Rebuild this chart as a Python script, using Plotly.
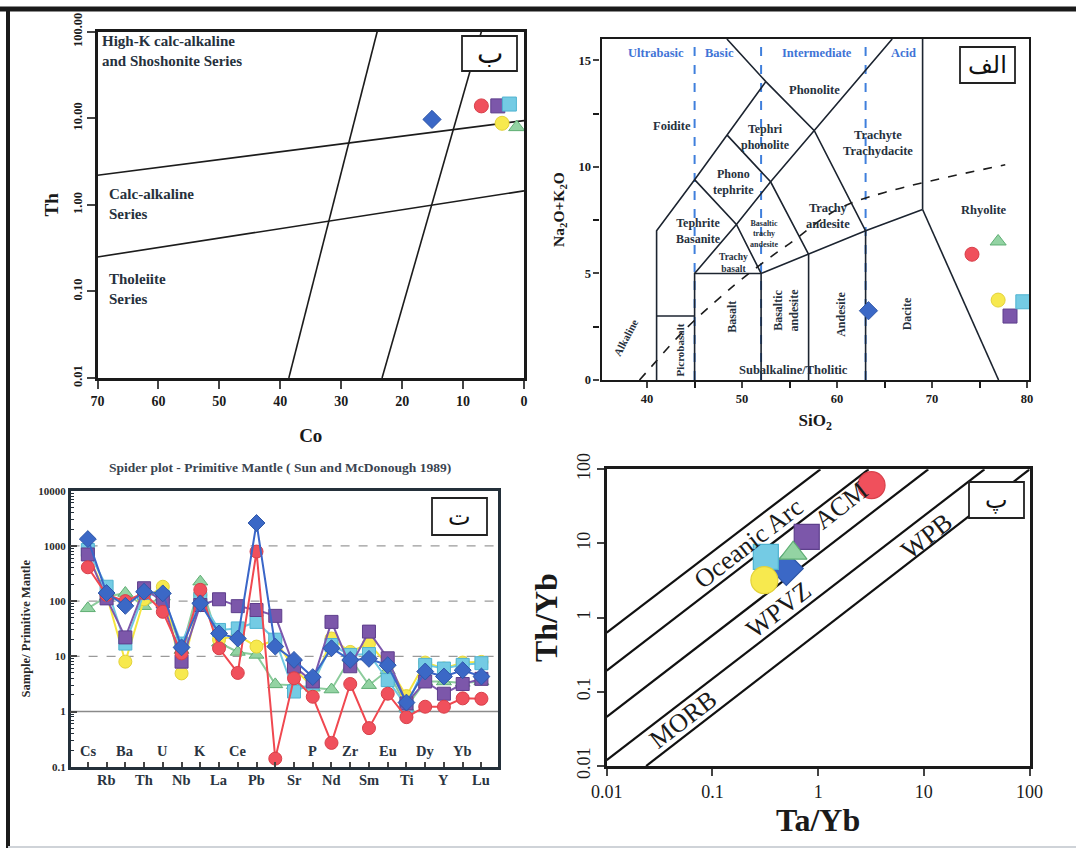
import numpy as np
import plotly.graph_objects as go

W, H = 1076, 851
SERIF = "Liberation Serif, Times New Roman, serif"
ARAB = "DejaVu Sans, Noto Sans, sans-serif"
INK = "#26313d"
BLUE_TXT = "#3f74d6"

# ---------------- samples (same order in every array) ----------------
samples = ["S1", "S2", "S3", "S4", "S5", "S6"]
sample_fill = ["#f0505c", "#3b68c6", "#7c57aa", "#74cbe4", "#f7e94e", "#93d3a3"]
sample_edge = ["#d8404a", "#2e56a8", "#5e3f8c", "#4fb3d0", "#e3d23a", "#5fae74"]
sample_symbol = ["circle", "diamond", "square", "square", "circle", "triangle-up"]

# panel ب : Th vs Co
co_vals = [7.0, 15.1, 4.3, 2.4, 3.6, 1.2]
th_vals = [13.9, 9.7, 13.9, 14.6, 8.75, 7.9]

# panel الف : TAS
sio2_vals = [74.2, 63.3, 78.2, 79.55, 76.95, 76.95]
alk_vals = [5.9, 3.25, 3.0, 3.67, 3.75, 6.5]

# panel پ : Th/Yb vs Ta/Yb
ta_yb_vals = [3.2, 0.5, 0.78, 0.32, 0.31, 0.58]
th_yb_vals = [61.0, 4.6, 12.3, 6.6, 3.2, 7.4]

# panel ت : spider diagram
elements = ["Cs", "Rb", "Ba", "Th", "U", "Nb", "K", "La", "Ce", "Pb", "Pr",
            "Sr", "P", "Nd", "Zr", "Sm", "Eu", "Ti", "Dy", "Y", "Yb", "Lu"]
spider = {
    "S6": [74, 120, 140, 81, 120, 13, 225, 17.6, 12, 10.6, 3.1, 3.0, 2.7, 2.5, 9.2, 3.0, 5.6, 1.2, 3.5, 3.5, 3.3, 3.5],
    "S5": [684, 130, 8, 108, 182, 4.9, 129, 20, 24, 15, 19.7, 6.0, 2.8, 21, 12, 17, 7.0, 1.9, 7.7, 6.0, 7.7, 7.9],
    "S4": [843, 182, 17, 140, 120, 17, 110, 30, 32, 42, 20, 2.3, 3.2, 16, 10.6, 11, 3.7, 1.25, 7.0, 6.0, 7.0, 7.5],
    "S3": [700, 112, 22, 171, 98, 8, 85, 108, 81, 69, 54, 6.5, 3.5, 42, 6.6, 28, 9.2, 1.4, 3.5, 2.1, 3.15, 3.9],
    "S1": [410, 130, 100, 140, 64, 11.3, 160, 14, 5.0, 790, 0.14, 4.0, 1.85, 0.27, 3.15, 0.5, 2.1, 0.79, 1.22, 1.22, 1.73, 1.7],
    "S2": [1330, 140, 82, 148, 138, 14.5, 91, 26, 21, 2600, 15, 8.6, 4.2, 14, 8.6, 9.0, 6.9, 1.45, 5.3, 4.3, 5.6, 4.3],
}
spider_line = {"S1": "#f04850", "S2": "#3a66c8", "S3": "#7d58ad",
               "S4": "#6ec8e2", "S5": "#f6e640", "S6": "#8ccc9c"}

# ---------------- reference boundaries ----------------
th_co_lines = [[(38.6, 0.01), (24.1, 100)], [(23.3, 0.01), (7.0, 100)],
               [(70, 2.2), (0, 9.4)], [(70, 0.25), (0, 1.45)]]
th_co_labels = [("High-K calc-alkaline<br>and Shoshonite Series", 69.6, 60.0),
                ("Calc-alkaline<br>Series", 68.4, 1.02),
                ("Tholeiite<br>Series", 68.4, 0.107)]

tas_lines = [
    [(41, 0), (41, 7), (45, 9.4), (48.4, 11.5), (52.5, 14)],
    [(48.4, 16), (52.5, 14), (57.6, 11.7), (63, 7)],
    [(41, 3), (45, 3)],
    [(45, 0), (45, 5), (52, 5), (52, 0)],
    [(45, 5), (49.4, 7.3), (53, 9.3), (57.6, 11.7), (65.8, 16)],
    [(45, 9.4), (49.4, 7.3), (52, 5)],
    [(48.4, 11.5), (53, 9.3), (57, 5.9)],
    [(52, 5), (57, 5.9), (63, 7), (69, 8)],
    [(57, 0), (57, 5.9)], [(63, 0), (63, 7)], [(69, 8), (69, 16)], [(69, 8), (77, 0)],
]
alk_div_x = [39.2, 40, 43.2, 45, 48, 50, 53.7, 55, 60, 65, 77.7]
alk_div_y = [0, 0.4, 2, 2.8, 4, 4.75, 6, 6.4, 8, 8.8, 10.1]
silica_div = [45, 52, 63]
silica_labels = [("Ultrabasic", 40.95), ("Basic", 47.6), ("Intermediate", 57.9), ("Acid", 67.0)]
tas_labels = [  # text, x, y, angle, size
    ("Foidite", 42.6, 11.9, 0, 12.5), ("Phonolite", 57.6, 13.6, 0, 12.5),
    ("Tephri<br>phonolite", 52.5, 11.4, 0, 12), ("Trachyte<br>Trachydacite", 64.3, 11.1, 0, 12.5),
    ("Phono<br>tephrite", 49.1, 9.3, 0, 12), ("Tephrite<br>Basanite", 45.4, 7.0, 0, 12),
    ("Basaltic<br>trachy<br>andesite", 52.3, 6.85, 0, 8), ("Trachy<br>andesite", 59.0, 7.7, 0, 12.5),
    ("Trachy<br>basalt", 49.1, 5.5, 0, 9.5), ("Rhyolite", 75.5, 8.0, 0, 12.5),
    ("Basalt", 48.9, 2.95, -90, 12), ("Basaltic<br>andesite", 54.6, 3.3, -90, 12),
    ("Andesite", 60.4, 3.1, -90, 12), ("Dacite", 67.4, 3.1, -90, 12),
    ("Picrobasalt", 43.5, 1.4, -90, 11), ("Alkaline", 37.8, 2.0, -62, 11),
    ("Subalkaline/Tholitic", 55.4, 0.47, 0, 12.5),
]

tect_lines = [[(0.01, 0.63), (1.05, 100)], [(0.01, 0.193), (3.0, 100)],
              [(0.01, 0.046), (11.0, 100)], [(0.01, 0.012), (37.4, 100)],
              [(0.0236, 0.01), (100, 100)]]
tect_labels = [("Oceanic Arc", 0.219, 10.0), ("ACM", 1.64, 33.0), ("WPVZ", 0.43, 1.27),
               ("WPB", 10.6, 12.3), ("MORB", 0.053, 0.042)]


def seg_xy(lines):
    xs, ys = [], []
    for ln in lines:
        for p in ln:
            xs.append(p[0]); ys.append(p[1])
        xs.append(None); ys.append(None)
    return xs, ys


def px(x):
    return x / W


def py(y):
    return 1 - y / H


fig = go.Figure()

# ---- panel ب
xs, ys = seg_xy(th_co_lines)
fig.add_trace(go.Scatter(x=xs, y=ys, mode="lines", line=dict(color="#1c1c1c", width=1.6),
                         xaxis="x", yaxis="y", showlegend=False, hoverinfo="skip"))
for i in range(len(samples)):
    fig.add_trace(go.Scatter(x=[co_vals[i]], y=[th_vals[i]], mode="markers",
                             marker=dict(symbol=sample_symbol[i], size=14, color=sample_fill[i],
                                         line=dict(color=sample_edge[i], width=1)),
                             xaxis="x", yaxis="y", showlegend=False, cliponaxis=False))

# ---- panel الف
for sx in silica_div:
    fig.add_trace(go.Scatter(x=[sx, sx], y=[0, 16], mode="lines",
                             line=dict(color="#3f7fdc", width=2, dash="dash"),
                             xaxis="x2", yaxis="y2", showlegend=False, hoverinfo="skip"))
xs, ys = seg_xy(tas_lines)
fig.add_trace(go.Scatter(x=xs, y=ys, mode="lines", line=dict(color="#1c2430", width=1.6),
                         xaxis="x2", yaxis="y2", showlegend=False, hoverinfo="skip"))
fig.add_trace(go.Scatter(x=alk_div_x, y=alk_div_y, mode="lines",
                         line=dict(color="#1c1c1c", width=1.6, dash="dash", shape="spline"),
                         xaxis="x2", yaxis="y2", showlegend=False, hoverinfo="skip"))
for i in range(len(samples)):
    fig.add_trace(go.Scatter(x=[sio2_vals[i]], y=[alk_vals[i]], mode="markers",
                             marker=dict(symbol=sample_symbol[i], size=14, color=sample_fill[i],
                                         line=dict(color=sample_edge[i], width=1)),
                             xaxis="x2", yaxis="y2", showlegend=False, cliponaxis=False))

# ---- panel ت
idx = list(range(len(elements)))
for yv, dash, col in [(1000, "dash", "#9a9a9a"), (100, "dash", "#9a9a9a"), (10, "dash", "#9a9a9a"),
                      (1, "solid", "#8a8a8a")]:
    fig.add_trace(go.Scatter(x=[-0.92, 21.9], y=[yv, yv], mode="lines",
                             line=dict(color=col, width=1.3, dash=dash),
                             xaxis="x3", yaxis="y3", showlegend=False, hoverinfo="skip"))
order = ["S6", "S5", "S4", "S3", "S1", "S2"]
for s in order:
    i = samples.index(s)
    fig.add_trace(go.Scatter(x=idx, y=spider[s], mode="lines+markers",
                             line=dict(color=spider_line[s], width=2),
                             marker=dict(symbol=sample_symbol[i], size=13, color=sample_fill[i],
                                         line=dict(color=sample_edge[i], width=1)),
                             xaxis="x3", yaxis="y3", showlegend=False))

# ---- panel پ
big_size = {"circle": 27, "square": 25, "diamond": 26, "triangle-up": 24}
xs, ys = seg_xy(tect_lines)
fig.add_trace(go.Scatter(x=xs, y=ys, mode="lines", line=dict(color="#111111", width=2.2),
                         xaxis="x4", yaxis="y4", showlegend=False, hoverinfo="skip"))
for i in range(len(samples)):
    fig.add_trace(go.Scatter(x=[ta_yb_vals[i]], y=[th_yb_vals[i]], mode="markers",
                             marker=dict(symbol=sample_symbol[i], size=big_size[sample_symbol[i]],
                                         color=sample_fill[i], line=dict(color=sample_edge[i], width=1.2)),
                             xaxis="x4", yaxis="y4", showlegend=False, cliponaxis=False))

tick_b = dict(family=SERIF, size=14, color="#1a1a1a", weight="bold")
common = dict(showgrid=False, zeroline=False, showline=True, mirror=True, linecolor="#1a1a1a",
              automargin=False)

layout = dict(
    width=W, height=H, margin=dict(l=0, r=0, t=0, b=0, autoexpand=False),
    paper_bgcolor="white", plot_bgcolor="white",
    xaxis=dict(domain=[px(97.5), px(524)], anchor="y", range=[70, 0], tickvals=list(range(0, 71, 10)),
               ticks="outside", ticklen=8, tickwidth=2, linewidth=2.5, tickfont=tick_b,
               title=dict(text="Co", font=dict(family=SERIF, size=19, color="#1a1a1a", weight="bold"), standoff=22),
               **common),
    yaxis=dict(domain=[py(378), py(31.7)], anchor="x", type="log", range=[-2, 2],
               tickvals=[0.01, 0.1, 1, 10, 100], ticktext=["0.01", "0.10", "1.00", "10.00", "100.00"],
               tickangle=-90, ticks="outside", ticklen=8, tickwidth=2, linewidth=2.5,
               tickfont=dict(tick_b, size=12.5),
               title=dict(text="Th", font=dict(family=SERIF, size=19, color="#1a1a1a", weight="bold"), standoff=8),
               **common),
    xaxis2=dict(domain=[px(601.5), px(1029)], anchor="y2", range=[35.2, 80.2],
                tickvals=list(range(40, 81, 10)),
                minor=dict(tickvals=list(range(45, 80, 10)), ticks="outside", ticklen=6, tickwidth=2, tickcolor="#1a1a1a"),
                ticks="outside", ticklen=6, tickwidth=2, linewidth=2.2, tickfont=dict(tick_b, size=12.5),
                title=dict(text="SiO<sub>2</sub>", font=dict(family=SERIF, size=17, color="#1a1a1a", weight="bold"), standoff=9),
                **common),
    yaxis2=dict(domain=[py(380), py(39)], anchor="x2", range=[0, 16],
                tickvals=[0, 5, 10, 15],
                minor=dict(tickvals=[2.5, 7.5, 12.5], ticks="outside", ticklen=6, tickwidth=2, tickcolor="#1a1a1a"),
                ticks="outside", ticklen=6, tickwidth=2, linewidth=2.2, tickfont=dict(tick_b, size=12.5),
                title=dict(text="Na<sub>2</sub>O+K<sub>2</sub>O", font=dict(family=SERIF, size=15.5, color="#1a1a1a", weight="bold"), standoff=10),
                **common),
    xaxis3=dict(domain=[px(70.6), px(498.3)], anchor="y3", range=[-0.92, 21.9],
                tickvals=idx, showticklabels=False, ticks="inside", ticklen=5, tickwidth=1.5,
                linewidth=2.5, linecolor="#24303a", showgrid=False, zeroline=False, showline=True, mirror=True,
                automargin=False),
    yaxis3=dict(domain=[py(766.7), py(490.7)], anchor="x3", type="log", range=[-1, 4],
                tickvals=[0.1, 1, 10, 100, 1000, 10000], ticktext=["0.1", "1", "10", "100", "1000", "10000"],
                ticks="inside", ticklen=7, tickwidth=1.5, linewidth=2.5, linecolor="#24303a",
                minor=dict(ticks="inside", ticklen=4, tickwidth=1, tickcolor="#24303a", dtick="D1"),
                tickfont=dict(family=SERIF, size=11, color="#2a2a2a", weight="bold"),
                title=dict(text="Sample/ Primitive Mantle", font=dict(family=SERIF, size=12.5, color="#2a2a2a", weight="bold"), standoff=5),
                showgrid=False, zeroline=False, showline=True, mirror=True, automargin=False),
    xaxis4=dict(domain=[px(606.7), px(1029.6)], anchor="y4", type="log", range=[-2, 2],
                tickvals=[0.01, 0.1, 1, 10, 100], ticktext=["0.01", "0.1", "1", "10", "100"],
                ticks="outside", ticklen=7, tickwidth=2, linewidth=3,
                tickfont=dict(family=SERIF, size=18, color="#1a1a1a"),
                title=dict(text="Ta/Yb", font=dict(family=SERIF, size=32, color="#1a1a1a", weight="bold"), standoff=5),
                **common),
    yaxis4=dict(domain=[py(766), py(469.3)], anchor="x4", type="log", range=[-2, 2],
                tickvals=[0.01, 0.1, 1, 10, 100], ticktext=["0.01", "0.1", "1", "10", "100"],
                tickangle=-90, ticks="outside", ticklen=7, tickwidth=2, linewidth=3,
                tickfont=dict(family=SERIF, size=18, color="#1a1a1a"),
                title=dict(text="Th/Yb", font=dict(family=SERIF, size=32, color="#1a1a1a", weight="bold"), standoff=7),
                **common),
)
fig.update_layout(**layout)

ann = []
# panel ب labels
for t, x, y in th_co_labels:
    ann.append(dict(x=x, y=np.log10(y), xref="x", yref="y", text=t, showarrow=False, xanchor="left",
                    yanchor="middle", align="left", font=dict(family=SERIF, size=15, color=INK, weight="bold")))
# TAS labels
for t, x in silica_labels:
    ann.append(dict(x=x, y=15.35, xref="x2", yref="y2", text=t, showarrow=False, xanchor="center",
                    yanchor="middle", font=dict(family=SERIF, size=12.5, color=BLUE_TXT, weight="bold")))
for t, x, y, a, s in tas_labels:
    ann.append(dict(x=x, y=y, xref="x2", yref="y2", text=t, showarrow=False, textangle=a,
                    xanchor="center", yanchor="middle",
                    font=dict(family=SERIF, size=s, color=INK, weight="bold")))
# spider labels
for i, el in enumerate(elements):
    if el == "Pr":
        continue
    ypos = py(751) if i % 2 == 0 else py(780)
    ann.append(dict(x=i, y=ypos, xref="x3", yref="paper", text=el, showarrow=False,
                    xanchor="center", yanchor="middle",
                    font=dict(family=SERIF, size=14.5, color="#2a3440", weight="bold")))
ann.append(dict(x=px(280), y=py(467), xref="paper", yref="paper", showarrow=False,
                xanchor="center", yanchor="middle",
                text="Spider plot - Primitive Mantle ( Sun and McDonough 1989)",
                font=dict(family=SERIF, size=13.5, color="#3a4450", weight="bold")))
# tectonic labels
for t, x, y in tect_labels:
    ann.append(dict(x=np.log10(x), y=np.log10(y), xref="x4", yref="y4", text=t, showarrow=False,
                    xanchor="center", yanchor="middle",
                    textangle=-37.8, font=dict(family=SERIF, size=26, color="#1a1a1a")))

# label boxes: text, x0, y0, x1, y1 (px), font size
boxes = [("ب", 462, 36, 517, 71, 28), ("الف", 960, 47, 1015, 83, 24),
         ("ت", 432, 498, 487, 535, 24), ("پ", 969, 482, 1024, 518, 24)]
shapes = []
for t, x0, y0, x1, y1, fs in boxes:
    shapes.append(dict(type="rect", xref="paper", yref="paper", x0=px(x0), x1=px(x1), y0=py(y1), y1=py(y0),
                       line=dict(color="#222", width=1.8), fillcolor="white", layer="above"))
    ann.append(dict(x=px((x0 + x1) / 2), y=py((y0 + y1) / 2), xref="paper", yref="paper", text=t,
                    showarrow=False, xanchor="center", yanchor="middle",
                    font=dict(family=ARAB, size=fs, color="#111")))

# outer frame
shapes.append(dict(type="line", xref="paper", yref="paper", x0=0, x1=1, y0=py(9), y1=py(9),
                   line=dict(color="#1a1a1a", width=5)))
shapes.append(dict(type="line", xref="paper", yref="paper", x0=px(8), x1=px(8), y0=py(9), y1=py(848),
                   line=dict(color="#1a1a1a", width=4)))
shapes.append(dict(type="line", xref="paper", yref="paper", x0=px(8), x1=1, y0=py(847), y1=py(847),
                   line=dict(color="#cfd3d8", width=2)))

fig.update_layout(annotations=ann, shapes=shapes)
fig.write_html("out.html", config={"displayModeBar": False},
               post_script="document.body.style.margin='0px';document.body.style.overflow='hidden';")
